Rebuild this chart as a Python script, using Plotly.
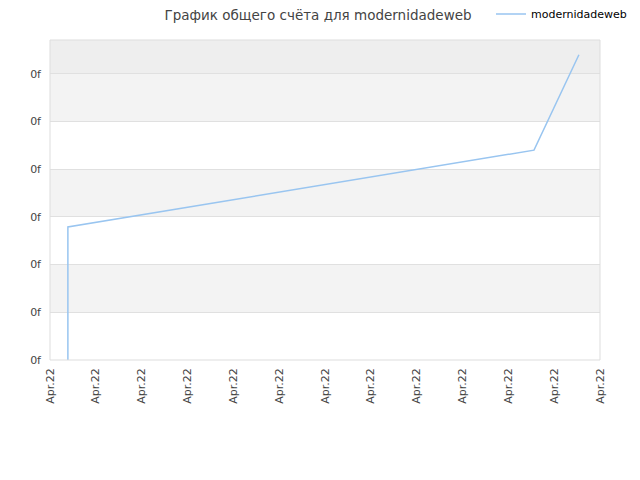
import plotly.graph_objects as go

# Data
x_vals = [0.39, 0.39, 10.56, 11.54]
y_vals = [0.0, 2.79, 4.40, 6.40]
x_tick_vals = list(range(13))
x_tick_text = ["Apr.22"] * 13
y_tick_vals = [0, 1, 2, 3, 4, 5, 6]
y_tick_text = ["0f"] * 7
series_name = "modernidadeweb"

fig = go.Figure()
fig.add_trace(go.Scatter(x=x_vals, y=y_vals, mode="lines", name=series_name,
                         line=dict(color="#99c5f0", width=1.5), showlegend=True))

# Alternating bands
bands = [(6, 6.71, "#eeeeee"), (5, 6, "#f3f3f3"), (3, 4, "#f3f3f3"), (1, 2, "#f3f3f3")]
shapes = []
for y0, y1, c in bands:
    shapes.append(dict(type="rect", xref="paper", yref="y", x0=0, x1=1, y0=y0, y1=y1,
                       fillcolor=c, line=dict(width=0), layer="below"))
shapes.append(dict(type="rect", xref="paper", yref="paper", x0=0, x1=1, y0=0, y1=1,
                   line=dict(color="#dddddd", width=1), fillcolor="rgba(0,0,0,0)", layer="above"))

fig.update_layout(
    width=640, height=480,
    margin=dict(l=42, r=48, t=32, b=128, autoexpand=False),
    paper_bgcolor="white", plot_bgcolor="white",
    font=dict(family="DejaVu Sans", size=11, color="#444444"),
    title=dict(text="График общего счёта для modernidadeweb", x=310/640, xanchor="center",
               xref="container", yref="container",
               y=1 - 7.5/480, yanchor="middle", font=dict(size=13.5, color="#444444")),
    legend=dict(x=483/640, y=1 - 6/480, xref="container", yref="container",
                xanchor="left", yanchor="middle",
                font=dict(size=11, color="#000000"), bgcolor="rgba(0,0,0,0)"),
    shapes=shapes,
    xaxis=dict(range=[0, 12], tickvals=x_tick_vals, ticktext=x_tick_text, tickangle=-90,
               showgrid=False, zeroline=False, showline=False, ticks="", ticklabelstandoff=5,
               automargin=False, tickfont=dict(size=11, color="#444444")),
    yaxis=dict(range=[0, 6.71], tickvals=y_tick_vals, ticktext=y_tick_text,
               showgrid=True, gridcolor="#e0e0e0", gridwidth=1, zeroline=False, showline=False,
               automargin=False, ticks="", ticklabelstandoff=8, tickfont=dict(size=11, color="#444444")),
)

fig.write_html("out.html")
